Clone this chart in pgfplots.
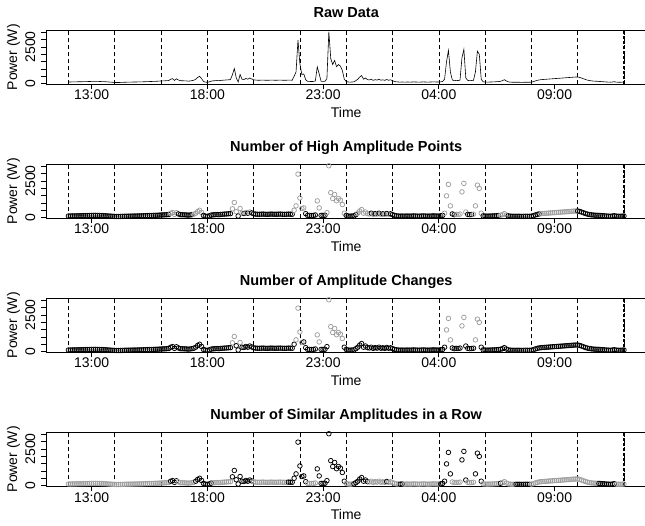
\documentclass[border=0pt]{standalone}
\usepackage{fontspec}
\setmainfont{Liberation Sans}
\usepackage{pgfplots}
\usepackage{pgfplotstable}
\pgfplotsset{compat=1.18}
\definecolor{ptgrey}{gray}{0.62}
\newcommand{\lf}{\fontsize{14bp}{16bp}\selectfont}
\newcommand{\tf}{\fontsize{14.5bp}{17bp}\selectfont\bfseries}

\pgfplotstableread[row sep=\\]{
p a b c\\
110 0 0 1\\ 112 0 0 1\\ 115 0 0 1\\ 118 0 0 1\\ 120 0 0 1\\ 125 0 0 1\\ 128 0 0 1\\ 130 0 0 1\\ 135 0 0 1\\ 138 0 0 1\\ 140 0 0 1\\ 145 0 0 1\\
150 0 0 1\\ 152 0 0 1\\ 155 0 0 1\\ 150 0 0 1\\ 148 0 0 1\\ 140 0 0 1\\ 135 0 0 1\\ 130 0 0 1\\ 120 0 0 1\\ 110 0 0 1\\ 100 0 0 1\\ 90 0 0 1\\
80 0 0 1\\ 75 0 0 1\\ 75 0 0 1\\ 80 0 0 1\\ 85 0 0 1\\ 90 0 0 1\\ 95 0 0 1\\ 100 0 0 1\\ 100 0 0 1\\ 105 0 0 1\\ 110 0 0 1\\ 110 0 0 1\\
115 0 0 1\\ 118 0 0 1\\ 120 0 0 1\\ 125 0 0 1\\ 130 0 0 1\\ 135 0 0 1\\ 140 0 0 1\\ 145 0 0 1\\ 150 0 0 1\\ 155 0 0 1\\ 160 0 0 1\\ 170 0 0 1\\
180 0 0 1\\ 185 0 0 1\\ 190 0 0 1\\ 200 0 0 1\\ 210 0 0 1\\ 300 1 0 0\\ 340 1 0 0\\ 220 1 0 0\\ 330 1 0 0\\ 250 0 0 1\\ 200 0 0 1\\ 195 0 0 1\\
190 0 0 1\\ 185 0 0 1\\ 170 0 0 1\\ 180 0 0 1\\ 200 0 0 1\\ 230 1 0 1\\ 300 1 0 0\\ 420 1 0 0\\ 500 1 0 0\\ 350 1 0 0\\ 150 0 0 0\\ 100 0 0 0\\
90 0 0 0\\ 120 0 0 0\\ 170 0 0 0\\ 190 0 0 1\\ 200 0 0 1\\ 210 0 0 1\\ 200 0 0 1\\ 220 0 0 1\\ 230 0 0 1\\ 240 0 0 1\\ 250 0 0 1\\ 260 0 0 1\\
270 0 0 1\\ 600 1 1 0\\ 1030 1 1 0\\ 400 1 0 0\\ 110 0 0 0\\ 620 1 1 0\\ 300 1 0 0\\ 280 0 0 0\\ 350 1 0 0\\ 300 0 0 0\\ 380 1 0 0\\ 320 0 0 0\\
260 0 0 1\\ 240 0 0 1\\ 230 0 0 1\\ 230 0 0 1\\ 235 0 0 1\\ 240 0 0 1\\ 230 0 0 1\\ 225 0 0 1\\ 230 0 0 1\\ 240 0 0 1\\ 235 0 0 1\\ 230 0 0 1\\
230 0 0 1\\ 235 0 0 1\\ 240 0 0 1\\ 230 0 0 1\\ 225 0 0 1\\ 230 0 0 1\\ 240 0 0 0\\ 235 0 0 0\\ 230 0 0 0\\ 500 1 0 0\\ 800 1 1 0\\ 2960 1 1 0\\
1340 1 1 0\\ 620 1 1 0\\ 660 1 0 0\\ 270 0 0 0\\ 150 0 0 1\\ 150 0 0 1\\ 140 0 0 1\\ 150 0 0 1\\ 180 0 0 1\\ 1140 1 1 0\\ 660 1 1 0\\ 150 0 0 0\\
150 0 0 0\\ 160 0 0 0\\ 340 1 0 0\\ 3530 1 1 0\\ 1700 1 1 0\\ 1300 1 1 0\\ 1575 1 1 0\\ 1150 1 1 0\\ 1300 1 1 0\\ 1190 1 1 0\\ 890 1 1 0\\ 300 1 0 0\\
150 0 0 1\\ 110 0 0 1\\ 100 0 0 1\\ 110 0 0 1\\ 120 0 0 0\\ 200 0 0 0\\ 300 1 0 0\\ 450 1 0 0\\ 550 1 0 0\\ 300 1 0 0\\ 380 1 0 0\\ 270 1 0 0\\
250 1 0 1\\ 300 0 0 1\\ 220 1 0 1\\ 270 0 0 1\\ 240 1 0 1\\ 300 0 0 1\\ 230 1 0 1\\ 260 0 0 1\\ 220 1 0 1\\ 280 0 0 0\\ 230 1 0 1\\ 260 0 0 1\\
200 0 0 1\\ 150 0 0 1\\ 120 0 0 1\\ 110 0 0 1\\ 100 0 0 0\\ 110 0 0 0\\ 100 0 0 1\\ 105 0 0 1\\ 110 0 0 1\\ 100 0 0 1\\ 110 0 0 1\\ 115 0 0 1\\
110 0 0 1\\ 105 0 0 1\\ 100 0 0 1\\ 110 0 0 1\\ 115 0 0 1\\ 110 0 0 1\\ 100 0 0 1\\ 105 0 0 1\\ 110 0 0 1\\ 120 0 0 1\\ 115 0 0 1\\ 110 0 0 1\\
110 0 0 1\\ 120 0 0 0\\ 150 0 0 0\\ 300 1 0 0\\ 1480 1 1 0\\ 2260 1 1 0\\ 800 1 1 0\\ 250 0 0 1\\ 200 0 0 1\\ 220 1 0 1\\ 210 1 0 1\\ 240 1 0 1\\
1750 1 1 0\\ 2330 1 1 0\\ 380 1 0 0\\ 220 0 0 1\\ 200 0 0 1\\ 210 0 0 1\\ 230 1 0 1\\ 800 1 1 0\\ 2210 1 1 0\\ 1990 1 1 0\\ 300 1 0 0\\ 120 0 0 1\\
110 0 0 1\\ 100 0 0 1\\ 105 0 0 1\\ 110 0 0 1\\ 115 0 0 1\\ 120 0 0 1\\ 130 0 0 1\\ 140 0 0 1\\ 160 1 0 0\\ 200 1 0 1\\ 270 1 0 1\\ 180 1 0 1\\
120 0 0 1\\ 100 0 0 1\\ 95 0 0 1\\ 90 0 0 1\\ 90 0 0 0\\ 95 0 0 0\\ 90 0 0 0\\ 85 0 0 0\\ 90 0 0 0\\ 95 0 0 0\\ 90 0 0 0\\ 90 0 0 0\\
100 0 0 1\\ 130 0 0 1\\ 180 0 0 1\\ 220 0 0 1\\ 250 0 0 1\\ 270 1 0 1\\ 280 1 0 1\\ 290 1 0 1\\ 300 1 0 1\\ 310 1 0 1\\ 320 1 0 1\\ 330 1 0 1\\
340 1 0 1\\ 350 1 0 1\\ 360 1 0 1\\ 370 1 0 1\\ 380 1 0 1\\ 390 1 0 1\\ 400 1 0 1\\ 410 1 0 1\\ 420 1 0 1\\ 430 1 0 1\\ 440 1 0 1\\ 450 1 0 1\\
450 0 0 1\\ 420 0 0 1\\ 380 0 0 1\\ 330 0 0 1\\ 280 0 0 1\\ 240 0 0 1\\ 210 0 0 1\\ 190 0 0 1\\ 175 0 0 1\\ 165 0 0 1\\ 160 0 0 1\\ 150 0 0 0\\
140 0 0 0\\ 130 0 0 0\\ 120 0 0 0\\ 110 0 0 0\\ 100 0 0 0\\ 95 0 0 0\\ 110 0 0 0\\ 130 0 0 0\\ 100 0 0 1\\ 95 0 0 1\\ 90 0 0 1\\ 100 0 0 1\\ 110 0 0 1\\
}\data

\pgfplotsset{
  panel/.style={
    at={(46.2bp,#1)}, anchor=south west, scale only axis,
    width=600bp, height=54.5bp,
    xmin=-11.52, xmax=299.52, ymin=-60, ymax=3650,
    clip=false,
    axis line style={line width=0.6pt, black},
    tick align=outside, tick pos=left, major tick length=5bp,
    tick style={black, line width=0.6pt},
    xtick={12,72,132,192,252},
    ytick={0,500,1000,1500,2000,2500,3000,3500},
    xticklabels={}, yticklabels={},
    extra x ticks={0,24,48,72,96,120,144,168,192,216,240,264,288},
    extra x tick labels={},
    extra x tick style={major tick length=0pt, grid=major},
    grid style={black, line width=0.5pt, dash pattern=on 4bp off 3bp},
  },
  pts/.style={scatter, only marks, scatter src=explicit symbolic,
    scatter/classes={0={mark=o, draw=black}, 1={mark=o, draw=ptgrey}},
    mark size=2.3bp, mark options={line width=0.75pt}},
}

\newcommand{\decor}[1]{%
  \addplot[black, line width=1.1pt, dash pattern=on 3bp off 2bp] coordinates {(288,-60) (288,3650)};
  \node[font=\tf, anchor=base] at ([yshift=12.8bp]axis cs:144,3650) {#1};
  \node[font=\lf, anchor=base] at ([yshift=-15.5bp]axis cs:12,-60) {13:00};
  \node[font=\lf, anchor=base] at ([yshift=-15.5bp]axis cs:72,-60) {18:00};
  \node[font=\lf, anchor=base] at ([yshift=-15.5bp]axis cs:132,-60) {23:00};
  \node[font=\lf, anchor=base] at ([yshift=-15.5bp]axis cs:192,-60) {04:00};
  \node[font=\lf, anchor=base] at ([yshift=-15.5bp]axis cs:252,-60) {09:00};
  \node[font=\lf, anchor=base] at ([yshift=-32.8bp]axis cs:144,-60) {Time};
  \node[font=\lf, rotate=90, anchor=base] at ([xshift=-11bp]axis cs:-11.52,0) {0};
  \node[font=\lf, rotate=90, anchor=base] at ([xshift=-11bp]axis cs:-11.52,2500) {2500};
  \node[font=\lf, rotate=90, anchor=base] at ([xshift=-29bp]axis cs:-11.52,1795) {Power (W)};
}

\begin{document}
\begin{tikzpicture}
\useasboundingbox (0,0) rectangle (645bp,526bp);
\begin{axis}[panel=441.5bp]
  \addplot[black, line width=0.6pt] table[x expr=\coordindex, y=p] {\data};
  \decor{Raw Data}
\end{axis}
\begin{axis}[panel=307.5bp]
  \addplot[pts] table[x expr=\coordindex, y=p, meta=a] {\data};
  \decor{Number of High Amplitude Points}
\end{axis}
\begin{axis}[panel=173.5bp]
  \addplot[pts] table[x expr=\coordindex, y=p, meta=b] {\data};
  \decor{Number of Amplitude Changes}
\end{axis}
\begin{axis}[panel=39.5bp]
  \addplot[pts] table[x expr=\coordindex, y=p, meta=c] {\data};
  \decor{Number of Similar Amplitudes in a Row}
\end{axis}
\end{tikzpicture}
\end{document}
